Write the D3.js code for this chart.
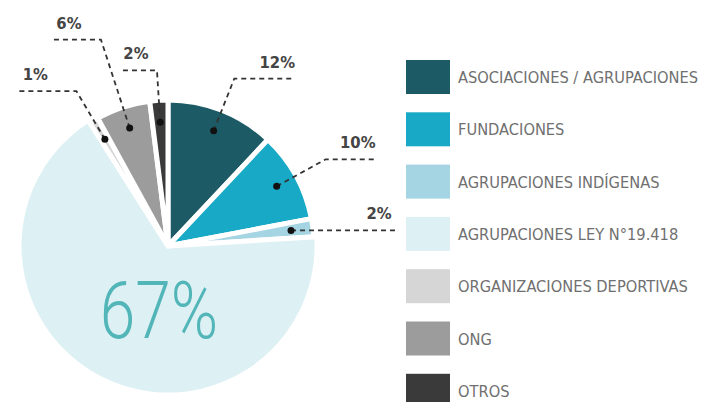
<!DOCTYPE html>
<html lang="es">

<head>
    <meta charset="utf-8">
    <title>tipos de organizaciones</title>
    <script src="https://cdn.jsdelivr.net/npm/d3@7"></script>
    <style>
        body {
            margin: 0;
            background: #fff;
        }

        .pct {
            font-family: "DejaVu Sans Condensed", "DejaVu Sans", sans-serif;
            font-size: 16.5px;
            font-weight: bold;
            fill: #444;
        }

        .legend-text {
            font-family: "DejaVu Sans Condensed", "DejaVu Sans", sans-serif;
            font-size: 16.3px;
            fill: #707070;
        }

        .big {
            font-family: Roboto, "DejaVu Sans", sans-serif;
            font-size: 80px;
            font-weight: 300;
            fill: #52b5b8;
        }
    </style>
</head>

<body>
    <script type="text/javascript">
        var categories = ['ASOCIACIONES / AGRUPACIONES', 'FUNDACIONES', 'AGRUPACIONES INDÍGENAS',
            'AGRUPACIONES LEY N°19.418', 'ORGANIZACIONES DEPORTIVAS', 'ONG', 'OTROS'];
        var values = [12, 10, 2, 67, 1, 6, 2];
        var labels = ['12%', '10%', '2%', '67%', '1%', '6%', '2%'];
        var colors = ['#1c5b65', '#17a9c5', '#a5d4e2', '#ddf0f4', '#d6d6d6', '#9c9c9c', '#3a3a3a'];

        // leader line layout (elbow radius, horizontal run), 0 = no leader
        var elbowR = [180, 180, 0, 0, 180, 217, 176];
        var runLen = [59, 48, 104, 0, 57, 48, 37];

        var svgWidth = 706, svgHeight = 402;
        var cx = 168, cy = 246, radius = 146, dotR = 124;

        var svg = d3.select('body')
            .append('svg')
            .attr('width', svgWidth)
            .attr('height', svgHeight);

        var pie = d3.pie().sort(null).value(d => d);
        var arcs = pie(values);

        var arc = d3.arc().innerRadius(0)
            .outerRadius(d => d.index === 3 ? radius + 3 : radius);

        function polar(a, r) {
            return [cx + r * Math.sin(a), cy - r * Math.cos(a)];
        }

        function drawPie() {
            svg.append('g')
                .attr('transform', 'translate(' + cx + ',' + cy + ')')
                .selectAll('path')
                .data(arcs)
                .enter().append('path')
                .attr('d', arc)
                .attr('fill', (d, i) => colors[i])
                .attr('stroke', '#fff')
                .attr('stroke-width', 5)
                .attr('stroke-linejoin', 'round');

            // big label, narrowed to match the condensed face
            svg.append('text')
                .attr('class', 'big')
                .attr('transform', 'translate(' + (cx - 9) + ',' + (cy + 92) + ') scale(0.8,1)')
                .attr('text-anchor', 'middle')
                .text(labels[3]);
        }

        function drawLeaders() {
            var g = svg.append('g');
            arcs.forEach((d, i) => {
                if (runLen[i] === 0) return;
                var mid = (d.startAngle + d.endAngle) / 2;
                var dot = polar(mid, dotR);
                var elbow = elbowR[i] ? polar(mid, elbowR[i]) : dot;
                var dir = mid > Math.PI ? -1 : 1;
                var end = [elbow[0] + dir * runLen[i], elbow[1]];

                g.append('path')
                    .attr('d', d3.line()([dot, elbow, end]))
                    .attr('fill', 'none')
                    .attr('stroke', '#333')
                    .attr('stroke-width', 1.8)
                    .attr('stroke-dasharray', '5,4');

                g.append('circle')
                    .attr('cx', dot[0])
                    .attr('cy', dot[1])
                    .attr('r', 3.5)
                    .attr('fill', '#111');

                g.append('text')
                    .attr('class', 'pct')
                    .attr('x', end[0] - dir * 16)
                    .attr('y', end[1] - 11)
                    .attr('text-anchor', 'middle')
                    .text(labels[i]);
            });
        }

        function drawLegend() {
            var y = d3.scaleBand()
                .domain(categories)
                .range([60, 60 + 52.3 * categories.length]);

            var row = svg.append('g').selectAll('g')
                .data(categories)
                .enter().append('g')
                .attr('transform', d => 'translate(406,' + y(d) + ')');

            row.append('rect')
                .attr('width', 44)
                .attr('height', 34)
                .attr('fill', (d, i) => colors[i]);

            row.append('text')
                .attr('class', 'legend-text')
                .attr('x', 52)
                .attr('y', 23)
                .text(d => d);
        }

        drawPie();
        drawLeaders();
        drawLegend();
    </script>
</body>

</html>
